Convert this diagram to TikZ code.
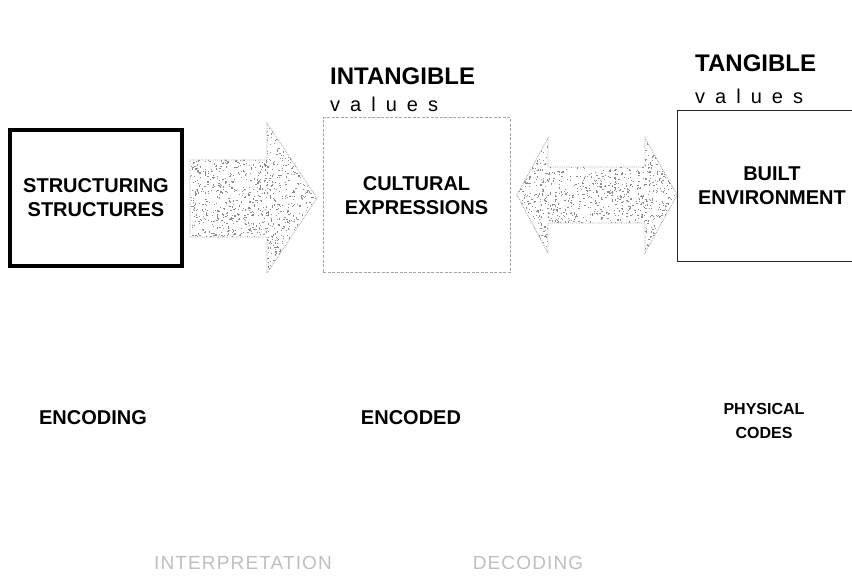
\documentclass[tikz,border=0pt]{standalone}
\usepackage{fontspec}
\setmainfont{Liberation Sans}
\begin{document}
\begin{tikzpicture}[x=1pt,y=-1pt,
  lbl/.style={font=\fontsize{20}{24}\selectfont\bfseries, align=center, inner sep=0},
  hdr/.style={font=\fontsize{24}{26}\selectfont\bfseries, anchor=west, inner sep=0},
  val/.style={font=\fontsize{20}{22}\selectfont\addfontfeature{LetterSpace=50}, anchor=west, inner sep=0},
  faint/.style={font=\fontsize{19}{22}\selectfont\addfontfeature{LetterSpace=6}, text=gray!50, inner sep=0},
  stipple/.style={draw=gray!75, densely dotted, line width=0.8},
  speck/.style={fill=gray!90},
]
\useasboundingbox (0,0) rectangle (852,580);

% boxes
\node[lbl, draw, line width=4, minimum width=172, minimum height=136] (ss) at (96,198)
  {STRUCTURING\\STRUCTURES};
\node[lbl, draw=gray!70, dashed, dash pattern=on 3pt off 1.5pt, line width=1,
      minimum width=187, minimum height=155] (ce) at (416.5,195.5)
  {CULTURAL\\EXPRESSIONS};
\coordinate (beTL) at (677,111);
\coordinate (beBL) at (677,262);
\draw[gray!30!black, line width=1] (852,111) -- (beTL) -- (beBL) -- (852,262);
\node[lbl] (be) at (772,186) {BUILT\\ENVIRONMENT};

% headings
\node[hdr] (intang) at (330,76) {INTANGIBLE};
\node[val] (ival) at (330,104) {values};
\node[hdr] (tang) at (695,63) {TANGIBLE};
\node[val] (tval) at (695,96) {values};

% single arrow between the first two boxes
\def\arrowone{(190,160) -- (267,160) -- (267,123) -- (317,198) -- (267,273) -- (267,237) -- (190,237) -- cycle}
\begin{scope}
  \clip \arrowone;
  \pgfmathsetseed{11}
  \foreach \i in {1,...,1500}
    \fill[speck] (254+64*rand,198+76*rand) rectangle ++(1.2,1.2);
\end{scope}
\draw[stipple] \arrowone;

% double arrow between the second and third boxes
\def\arrowtwo{(517,195) -- (548,138) -- (548,167) -- (645,167) -- (645,138) -- (677,195) -- (645,253) -- (645,223) -- (548,223) -- (548,253) -- cycle}
\begin{scope}
  \clip \arrowtwo;
  \pgfmathsetseed{23}
  \foreach \i in {1,...,1500}
    \fill[speck] (597+81*rand,195+59*rand) rectangle ++(1.2,1.2);
\end{scope}
\draw[stipple] \arrowtwo;

% lower labels
\node[lbl] (enc) at (93,418) {ENCODING};
\node[lbl] (encd) at (411,418) {ENCODED};
\node[lbl, font=\fontsize{16}{24}\selectfont\bfseries] (phys) at (764,421) {PHYSICAL\\CODES};
\node[faint] (interp) at (243,563) {INTERPRETATION};
\node[faint] (dec) at (528,563) {DECODING};
\end{tikzpicture}
\end{document}
